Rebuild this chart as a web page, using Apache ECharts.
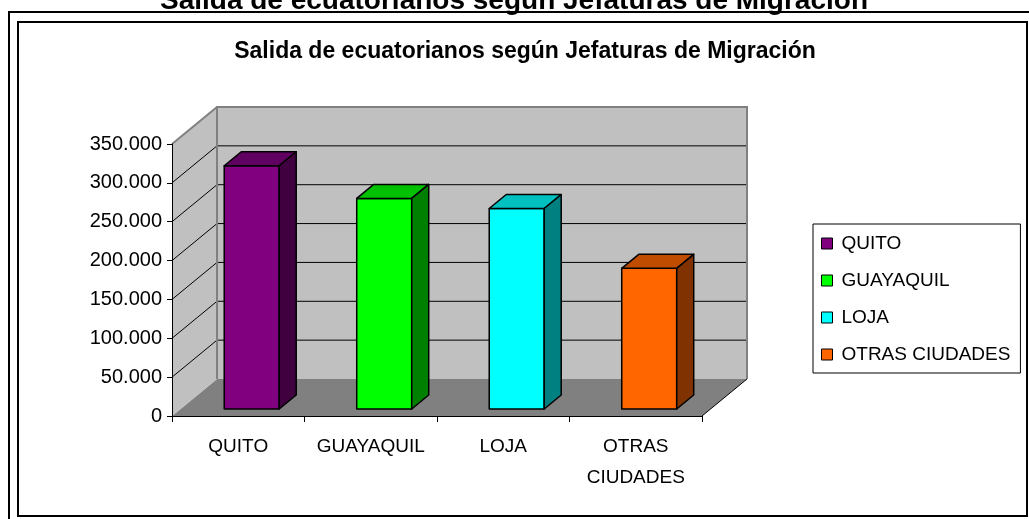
<!DOCTYPE html>
<html>
<head>
<meta charset="utf-8">
<script src="https://cdn.jsdelivr.net/npm/echarts@6/dist/echarts.min.js"></script>
<style>
  html, body { margin: 0; padding: 0; background: #fff; }
  #chart { width: 1029px; height: 519px; }
</style>
</head>
<body>
<div id="chart"></div>
<script>
// datos
const categories = ['QUITO', 'GUAYAQUIL', 'LOJA', 'OTRAS CIUDADES'];
const salidas = [313000, 271000, 258000, 181000];
const yTicks = [0, 50000, 100000, 150000, 200000, 250000, 300000, 350000];
const chartTitle = 'Salida de ecuatorianos según Jefaturas de Migración';

const frontColors = ['#800080', '#00ff00', '#00ffff', '#ff6600'];
const topColors = ['#600060', '#00c000', '#00c0c0', '#c04c00'];
const sideColors = ['#400040', '#008000', '#008080', '#803300'];

const FONT = '"Liberation Sans", Arial, sans-serif';
// profundidad de las paredes y de las barras (px)
const DX = 45, DY = -37;
const BAR_SX = 8.5, BAR_SY = -7;
const BAR_DX = 17, BAR_DY = -14;

const fmt = v => String(v).replace(/\B(?=(\d{3})+(?!\d))/g, '.');

const chart = echarts.init(document.getElementById('chart'));

const renderBackdrop = (params, api) => {
  const bw = api.size([1, 0])[0];
  const x0 = api.coord([0, 0])[0] - bw / 2;
  const x1 = api.coord([categories.length - 1, 0])[0] + bw / 2;
  const yb = api.coord([0, yTicks[0]])[1];
  const yt = api.coord([0, yTicks[yTicks.length - 1]])[1];
  const kids = [];
  // suelo
  kids.push({ type: 'polygon', shape: { points: [[x0, yb], [x1, yb], [x1 + DX, yb + DY], [x0 + DX, yb + DY]] },
    style: { fill: '#808080' } });
  // pared izquierda
  kids.push({ type: 'polygon', shape: { points: [[x0, yb], [x0, yt], [x0 + DX, yt + DY], [x0 + DX, yb + DY]] },
    style: { fill: '#c0c0c0' } });
  // pared del fondo
  kids.push({ type: 'rect', shape: { x: x0 + DX, y: yt + DY, width: x1 - x0, height: yb - yt },
    style: { fill: '#c0c0c0' } });
  // líneas de división
  yTicks.slice(1, -1).forEach(v => {
    const y = api.coord([0, v])[1];
    kids.push({ type: 'line', shape: { x1: x0, y1: y, x2: x0 + DX, y2: y + DY }, style: { stroke: '#000', lineWidth: 1 } });
    kids.push({ type: 'line', shape: { x1: x0 + DX, y1: y + DY, x2: x1 + DX, y2: y + DY }, style: { stroke: '#000', lineWidth: 1 } });
  });
  // bordes grises
  kids.push({ type: 'polyline', shape: { points: [[x0 + DX, yb + DY], [x0 + DX, yt + DY], [x1 + DX, yt + DY], [x1 + DX, yb + DY]] },
    style: { stroke: '#808080', lineWidth: 2, fill: null } });
  kids.push({ type: 'line', shape: { x1: x0, y1: yt, x2: x0 + DX, y2: yt + DY }, style: { stroke: '#808080', lineWidth: 2 } });
  // borde derecho del suelo
  kids.push({ type: 'line', shape: { x1: x1, y1: yb, x2: x1 + DX, y2: yb + DY }, style: { stroke: '#000', lineWidth: 1 } });
  return { type: 'group', children: kids };
};

const renderBar = (params, api) => {
  const i = api.value(0);
  const v = api.value(1);
  const bw = api.size([1, 0])[0];
  const base = api.coord([i, 0]);
  const top = api.coord([i, v]);
  const l = base[0] + BAR_SX - 0.17 * bw;
  const r = l + 0.415 * bw;
  const b = base[1] + BAR_SY;
  const t = top[1] + BAR_SY;
  const st = { stroke: '#000', lineWidth: 1.5, lineJoin: 'round' };
  return {
    type: 'group',
    children: [
      { type: 'polygon', shape: { points: [[l, b], [l, t], [r, t], [r, b]] }, style: { ...st, fill: frontColors[i] } },
      { type: 'polygon', shape: { points: [[l, t], [l + BAR_DX, t + BAR_DY], [r + BAR_DX, t + BAR_DY], [r, t]] }, style: { ...st, fill: topColors[i] } },
      { type: 'polygon', shape: { points: [[r, t], [r + BAR_DX, t + BAR_DY], [r + BAR_DX, b + BAR_DY], [r, b]] }, style: { ...st, fill: sideColors[i] } },
    ],
  };
};

const barSeries = categories.map((name, i) => ({
  name,
  type: 'custom',
  z: 3,
  itemStyle: { color: frontColors[i] },
  data: [[i, salidas[i]]],
  renderItem: renderBar,
}));

chart.setOption({
  animation: false,
  textStyle: { fontFamily: FONT },
  graphic: [
    { type: 'polyline', shape: { points: [[9, 519], [9, 12], [1029, 12]] }, style: { stroke: '#000', lineWidth: 2, fill: null } },
    { type: 'rect', shape: { x: 18, y: 22, width: 1009, height: 494 }, style: { stroke: '#000', lineWidth: 2, fill: null } },
    { type: 'text', x: 514, y: 1, style: { text: chartTitle, font: 'bold 28px ' + FONT, fill: '#000',
      align: 'center', verticalAlign: 'middle', textAlign: 'center', textVerticalAlign: 'middle' } },
    { type: 'text', x: 525, y: 52, style: { text: chartTitle, font: 'bold 23px ' + FONT, fill: '#000',
      align: 'center', verticalAlign: 'middle', textAlign: 'center', textVerticalAlign: 'middle' } },
  ],
  grid: { left: 172, top: 144, width: 530, height: 272, containLabel: false },
  legend: {
    orient: 'vertical',
    left: 813,
    top: 224,
    padding: [10, 10, 9, 8],
    itemGap: 18,
    itemWidth: 11,
    itemHeight: 11,
    icon: 'rect',
    borderColor: '#000',
    borderWidth: 1,
    itemStyle: { borderColor: '#000', borderWidth: 1 },
    textStyle: { fontSize: 19, lineHeight: 19, color: '#000', fontFamily: FONT, padding: [0, 0, 0, 4] },
    data: categories,
  },
  xAxis: {
    type: 'category',
    data: categories,
    z: 10,
    axisLine: { lineStyle: { color: '#000', width: 1 } },
    axisTick: { show: true, length: 6, interval: 0, lineStyle: { color: '#000' } },
    axisLabel: {
      interval: 0, color: '#000', fontSize: 19, lineHeight: 31, margin: 15, fontFamily: FONT,
      formatter: v => v.replace(' ', '\n'),
    },
    splitLine: { show: false },
  },
  yAxis: {
    type: 'value',
    min: yTicks[0],
    max: yTicks[yTicks.length - 1],
    interval: yTicks[1] - yTicks[0],
    z: 10,
    axisLine: { show: true, lineStyle: { color: '#000', width: 1 } },
    axisTick: { show: true, length: 5, lineStyle: { color: '#000' } },
    axisLabel: { color: '#000', fontSize: 20, margin: 10, fontFamily: FONT, formatter: fmt },
    splitLine: { show: false },
  },
  series: [
    { type: 'custom', z: 1, silent: true, data: [[0]], renderItem: renderBackdrop },
    ...barSeries,
  ],
});
</script>
</body>
</html>
